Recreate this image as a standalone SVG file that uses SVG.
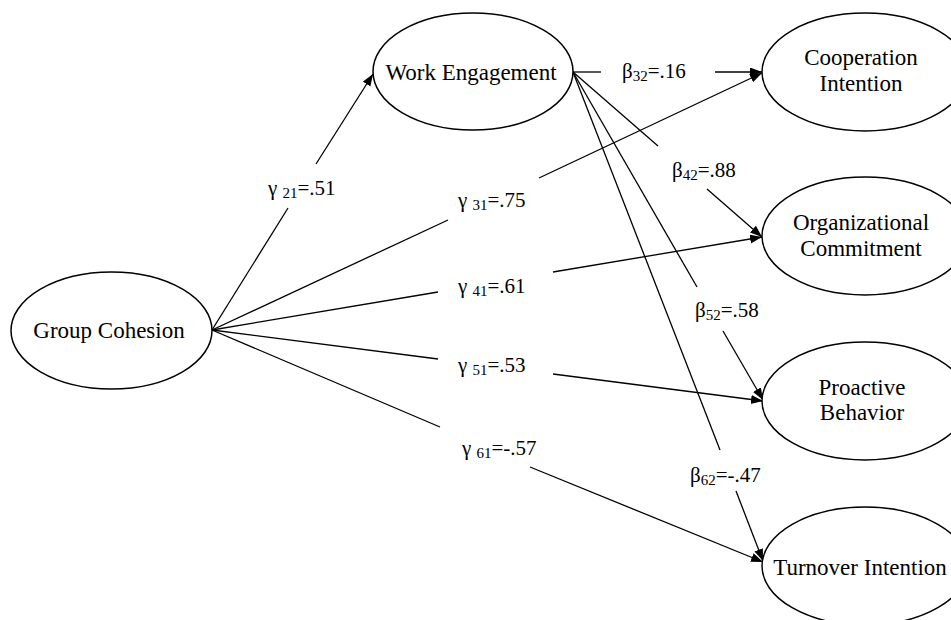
<svg xmlns="http://www.w3.org/2000/svg" width="951" height="620" viewBox="0 0 951 620">
  <style>
    .node { fill: #fff; stroke: #000; stroke-width: 1.5; }
    .name { font-size: 23px; fill: #000; text-anchor: middle; }
    .path { stroke: #000; stroke-width: 1.3; fill: none; }
    .coef { font-size: 21px; fill: #000; }
    .sub { font-size: 15px; }
  </style>
  <defs>
    <marker id="head" markerUnits="userSpaceOnUse" markerWidth="13" markerHeight="10" refX="12" refY="4.5" orient="auto">
      <path d="M0,0 L12,4.5 L0,9 z" fill="#000"/>
    </marker>
  </defs>

  <!-- structural paths; each one is split where its coefficient sits -->
  <g id="connectors">
    <!-- Group Cohesion -> Work Engagement -->
    <line class="path" x1="212" y1="330" x2="288" y2="208"/>
    <line class="path" x1="316" y1="164" x2="373" y2="74" marker-end="url(#head)"/>
    <!-- Group Cohesion -> outcomes -->
    <line class="path" x1="212" y1="330" x2="448" y2="220"/>
    <line class="path" x1="539" y1="178" x2="762" y2="73" marker-end="url(#head)"/>
    <line class="path" x1="212" y1="330" x2="438" y2="292"/>
    <line class="path" x1="553" y1="272" x2="762" y2="237" marker-end="url(#head)"/>
    <line class="path" x1="212" y1="330" x2="438" y2="359"/>
    <line class="path" x1="553" y1="374" x2="763" y2="401" marker-end="url(#head)"/>
    <line class="path" x1="212" y1="330" x2="440" y2="427"/>
    <line class="path" x1="530" y1="467" x2="763" y2="562" marker-end="url(#head)"/>
    <!-- Work Engagement -> outcomes -->
    <line class="path" x1="573" y1="72" x2="601" y2="72"/>
    <line class="path" x1="715" y1="72" x2="762" y2="72" marker-end="url(#head)"/>
    <line class="path" x1="573" y1="72" x2="658" y2="146"/>
    <line class="path" x1="707" y1="189" x2="762" y2="237" marker-end="url(#head)"/>
    <line class="path" x1="573" y1="72" x2="697" y2="287"/>
    <line class="path" x1="723" y1="331" x2="763" y2="400" marker-end="url(#head)"/>
    <line class="path" x1="573" y1="72" x2="720" y2="450"/>
    <line class="path" x1="736" y1="491" x2="763" y2="561" marker-end="url(#head)"/>
  </g>

  <g font-family="Liberation Serif, Tinos, DejaVu Serif, serif">
    <!-- path coefficients -->
    <g id="coefficients">
      <text class="coef" x="268" y="195">γ <tspan class="sub" dy="3">21</tspan><tspan dy="-3">=.51</tspan></text>
      <text class="coef" x="458" y="207">γ <tspan class="sub" dy="3">31</tspan><tspan dy="-3">=.75</tspan></text>
      <text class="coef" x="458" y="293">γ <tspan class="sub" dy="3">41</tspan><tspan dy="-3">=.61</tspan></text>
      <text class="coef" x="458" y="372">γ <tspan class="sub" dy="3">51</tspan><tspan dy="-3">=.53</tspan></text>
      <text class="coef" x="462" y="455">γ <tspan class="sub" dy="3">61</tspan><tspan dy="-3">=-.57</tspan></text>
      <text class="coef" x="622" y="78">β<tspan class="sub" dy="3">32</tspan><tspan dy="-3">=.16</tspan></text>
      <text class="coef" x="672" y="177">β<tspan class="sub" dy="3">42</tspan><tspan dy="-3">=.88</tspan></text>
      <text class="coef" x="695" y="317">β<tspan class="sub" dy="3">52</tspan><tspan dy="-3">=.58</tspan></text>
      <text class="coef" x="690" y="482">β<tspan class="sub" dy="3">62</tspan><tspan dy="-3">=-.47</tspan></text>
    </g>

    <g id="group-cohesion">
      <ellipse class="node" cx="111.5" cy="330.5" rx="100.5" ry="58.5"/>
      <text class="name" x="109" y="338">Group Cohesion</text>
    </g>
    <g id="work-engagement">
      <ellipse class="node" cx="473" cy="71.5" rx="100" ry="58.5"/>
      <text class="name" x="471" y="80">Work Engagement</text>
    </g>
    <g id="cooperation-intention">
      <ellipse class="node" cx="865" cy="72" rx="103" ry="59"/>
      <text class="name" x="861" y="65">Cooperation</text>
      <text class="name" x="861" y="91">Intention</text>
    </g>
    <g id="organizational-commitment">
      <ellipse class="node" cx="865" cy="236" rx="103" ry="59"/>
      <text class="name" x="861" y="230">Organizational</text>
      <text class="name" x="861" y="256">Commitment</text>
    </g>
    <g id="proactive-behavior">
      <ellipse class="node" cx="865" cy="401" rx="103" ry="59"/>
      <text class="name" x="862" y="395">Proactive</text>
      <text class="name" x="862" y="420">Behavior</text>
    </g>
    <g id="turnover-intention">
      <ellipse class="node" cx="865" cy="566" rx="103" ry="59"/>
      <text class="name" x="860" y="575">Turnover Intention</text>
    </g>
  </g>
</svg>
